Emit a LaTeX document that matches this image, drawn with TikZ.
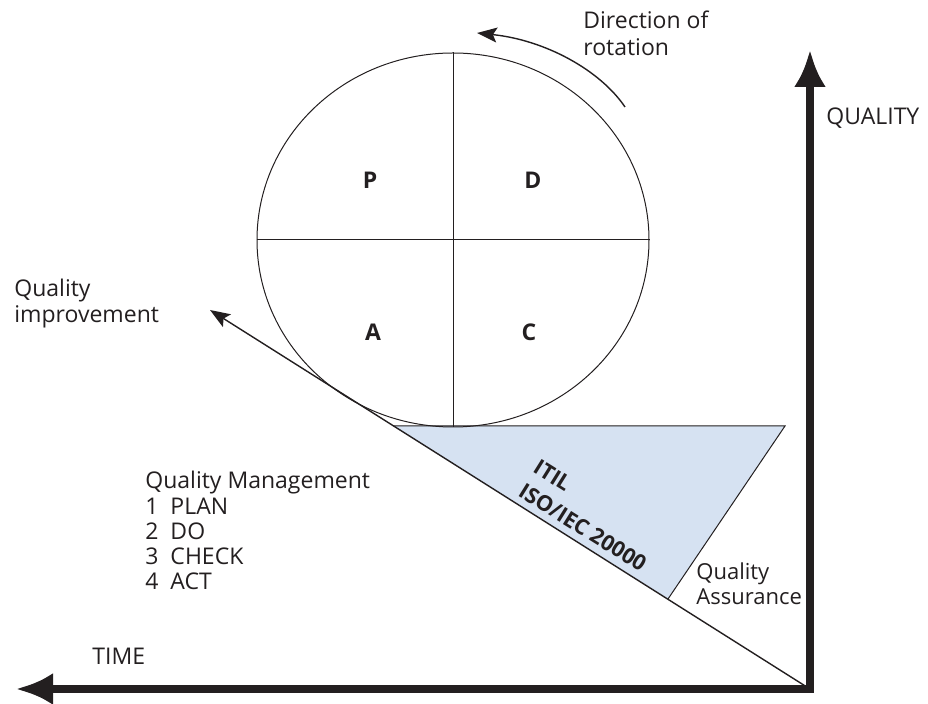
\documentclass[tikz,border=0pt]{standalone}
\usepackage{fontspec}
\setmainfont{Open Sans}
\usetikzlibrary{arrows.meta,shapes.geometric}
\definecolor{inkblack}{RGB}{35,31,32}
\definecolor{paleblue}{RGB}{214,226,242}

\begin{document}
\begin{tikzpicture}[x=0.5pt, y=-0.5pt, color=inkblack,
    font=\fontsize{11.5}{12.6}\selectfont,
    txt/.style={inner sep=0pt, anchor=north west, align=left},
    thinline/.style={line width=0.7pt},
    axis/.style={line width=4pt, line join=miter},
    bigtip/.tip={Latex[length=18.5pt,width=16pt]},
    smalltip/.tip={Stealth[length=10pt,width=7.5pt,inset=2pt]}]
  \useasboundingbox (0,0) rectangle (928,704);
  % corner of the axes and free ends
  \coordinate (O) at (810,689);
  \coordinate (qtop) at (810,50);
  \coordinate (tend) at (16,689);
  \coordinate (impr) at (210,310);
  % quality assurance wedge
  \coordinate (ta) at (393,426);
  \coordinate (tb) at (785,426);
  \coordinate (tc) at (668,599);
  \fill[paleblue] (ta) -- (tb) -- (tc) -- cycle;
  \draw[line width=0.5pt] (ta) -- (tb) -- (tc);
  \draw[thinline, -smalltip] (O) -- (impr);
  % the PDCA wheel
  \node[draw, ellipse, line width=0.5pt, inner sep=0pt,
        minimum width=196pt, minimum height=187pt] (wheel) at (453,240) {};
  \draw[line width=0.5pt] (wheel.north) -- (wheel.south) (wheel.west) -- (wheel.east);
  \foreach \step/\x/\y in {P/370/180, D/533/180, A/373/332, C/529/332}{
    \node[font=\fontsize{11.5}{12.6}\selectfont\bfseries] (let\step) at (\x,\y) {\step};
  }
  % direction of rotation
  \coordinate (rs) at (625,107);
  \coordinate (re) at (477,33);
  \draw[thinline, -smalltip] (rs) .. controls (600,70) and (545,40) .. (re);
  % axes
  \draw[axis, bigtip-bigtip] (qtop) -- (O) -- (tend);
  % texts
  \node[txt, font=\fontsize{11.5}{13.5}\selectfont] (dir) at (583,11) {Direction of\\rotation};
  \node[txt] (quality) at (826,107) {QUALITY};
  \node[txt, font=\fontsize{11.5}{13}\selectfont] (improve) at (14,279) {Quality\\improvement};
  \node[txt] (mgmt) at (145,471) {Quality Management\\1~~PLAN\\2~~DO\\3~~CHECK\\4~~ACT};
  \node[txt, font=\fontsize{10.8}{14}\selectfont\bfseries, rotate=-32] (itil) at (540,458) {ITIL\\ISO/IEC 20000};
  \node[txt, font=\fontsize{11}{12.6}\selectfont] (assure) at (696,562) {Quality\\Assurance};
  \node[txt] (time) at (92,648) {TIME};
\end{tikzpicture}
\end{document}
